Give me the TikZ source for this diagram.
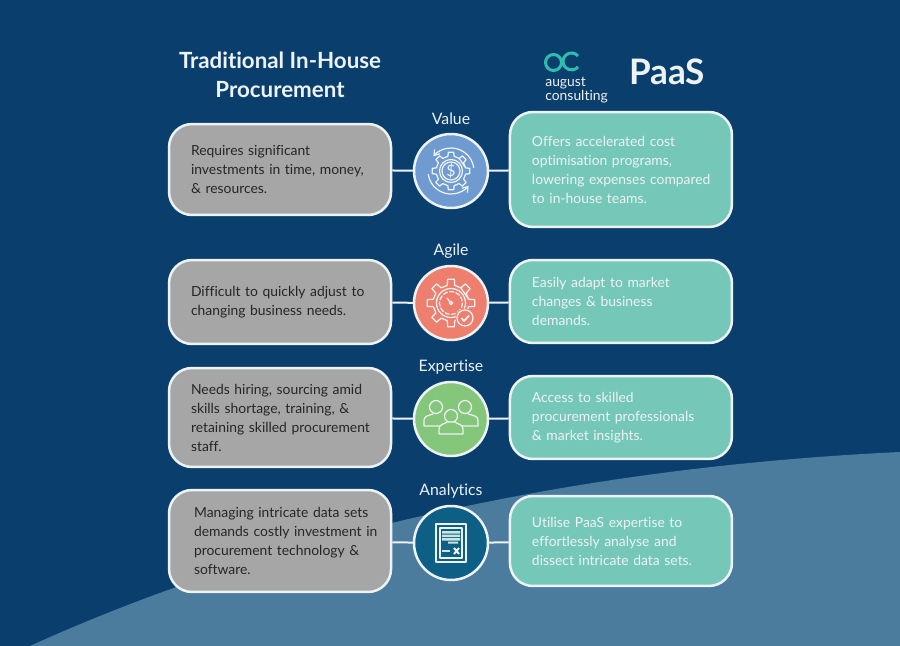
\documentclass[tikz,border=0pt]{standalone}
\usepackage{fontspec}
\setmainfont{Lato}[Ligatures=NoCommon]
\usetikzlibrary{positioning,arrows.meta}
\definecolor{navy}{HTML}{0A3F6D}
\definecolor{swoosh}{HTML}{4B7C9E}
\definecolor{greybox}{HTML}{A6A6A6}
\definecolor{tealbox}{HTML}{75C8B7}
\definecolor{offwhite}{HTML}{EDF2F5}
\definecolor{logoteal}{HTML}{2FBDB0}
\definecolor{valuehub}{HTML}{6F9BD1}
\definecolor{agilehub}{HTML}{EE7F6E}
\definecolor{experthub}{HTML}{85C77A}
\definecolor{datahub}{HTML}{0E5F86}
\tikzset{
    box/.style={draw=offwhite, line width=0.05cm, rounded corners=0.46cm, minimum width=4.44cm,
        text width=3.56cm, inner xsep=0pt, align=left, text=offwhite,
        font=\fontsize{7.9}{10.8}\selectfont},
    oldbox/.style={box, fill=greybox, text=black!85},
    newbox/.style={box, fill=tealbox},
    hub/.style={circle, draw=offwhite, line width=0.05cm, minimum size=1.48cm, inner sep=0pt},
    head/.style={text=offwhite, font=\fontsize{9}{10}\selectfont},
    link/.style={draw=offwhite, line width=0.04cm},
    icon/.style={draw=offwhite, line width=0.025cm, line join=round},
    valueicon/.pic={
        \draw[icon] \foreach \a in {0,45,...,315} {
            (\a-12:15) -- (\a-8:19) -- (\a+8:19) -- (\a+12:15) -- (\a+33:15)} -- cycle;
        \draw[icon] (0,0) circle (11.5) (0,0) circle (9);
        \draw[icon, -{Straight Barb[length=0.1cm,width=0.14cm]}] (-8:23) arc[start angle=-8, end angle=-140, radius=23];
        \draw[icon, -{Straight Barb[length=0.1cm,width=0.14cm]}] (172:23) arc[start angle=172, end angle=40, radius=23];
        \node[text=offwhite, font=\fontsize{9}{9}\selectfont] (dollar) at (0,0) {\$};
    },
    agileicon/.pic={
        \draw[icon] \foreach \a in {0,45,...,315} {
            (\a-12:18) -- (\a-8:24) -- (\a+8:24) -- (\a+12:18) -- (\a+33:18)} -- cycle;
        \draw[icon] (0,0) circle (14.5);
        \draw[icon, dash pattern=on 0.1cm off 0.03cm] (0,0) circle (11.5);
        \draw[icon] (0,0) circle (1.8) (-1,-1) -- (-4,-5);
        \fill[agilehub] (14,15) circle (9.5);
        \draw[icon] (14,15) circle (8);
        \draw[icon, line width=0.035cm] (10.5,15) -- (13,18) -- (18,12.5);
    },
    teamicon/.pic={
        \draw[icon] (-15,-12) circle (6.5) (14,-12) circle (6.5);
        \draw[icon] (-5,7) -- (-27,7) -- (-27,1) .. controls (-27,-3) and (-21,-4) .. (-18,-5)
            (5,7) -- (27,7) -- (27,1) .. controls (27,-3) and (21,-4) .. (17,-5);
        \draw[icon, fill=experthub] (0,-3) circle (6.5);
        \draw[icon, fill=experthub] (-12,15) -- (-12,10) .. controls (-12,5) and (-6,5) .. (-4,3)
            -- (4,3) .. controls (6,5) and (12,5) .. (12,10) -- (12,15) -- cycle;
    },
    reporticon/.pic={
        \draw[icon] (-15,-19) rectangle (15,19) (-11,-15) rectangle (11,15);
        \fill[offwhite!70!tealbox] (-9,-12) rectangle (9,-9.5) (-9,-8.5) rectangle (9,-6)
            (-9,-5) rectangle (9,-2.5) (-3,-1.5) rectangle (7,0.5);
        \fill[offwhite!70!tealbox] (-9,7) rectangle (-1,9);
        \draw[icon, line width=0.04cm] (3,5) -- (8,11) (8,5) -- (3,11);
    }
}
\begin{document}
\begin{tikzpicture}[x=0.02cm, y=-0.02cm, on grid]
    \fill[navy] (0,0) rectangle (900,646);
    \useasboundingbox (0,0) rectangle (900,646);
    \fill[swoosh] (30,646) .. controls (230,555) and (520,470) .. (900,452) -- (900,646) -- cycle;

    \node[align=center, text=offwhite, font=\fontsize{12.7}{16.4}\selectfont\bfseries] (oldtitle) at (280,75) {Traditional In-House\\Procurement};
    \node[text=offwhite, font=\fontsize{20}{20}\selectfont\bfseries] (newtitle) at (667,72) {PaaS};
    \draw[logoteal, line width=0.06cm] (553.5,62.5) circle (8);
    \draw[logoteal, line width=0.06cm] (578,56) arc[start angle=-40, end angle=-320, radius=8.5];
    \node[anchor=north west, inner sep=0pt, align=left, text=offwhite, font=\fontsize{7.9}{6.7}\selectfont] (logo) at (545,76.5) {august\\consulting};

    \node[hub, fill=valuehub] (value) at (451,171) {};
    \node[hub, fill=agilehub] (agile) at (451,303) {};
    \node[hub, fill=experthub] (expertise) at (451,419) {};
    \node[hub, fill=datahub] (analytics) at (451,543) {};

    \node[head, above=1.04cm of value] {Value};
    \node[head, above=1.04cm of agile] {Agile};
    \node[head, above=1.04cm of expertise] {Expertise};
    \node[head, above=1.04cm of analytics] {Analytics};

    \pic at (value) {valueicon};
    \pic at (agile) {agileicon};
    \pic at (expertise) {teamicon};
    \pic at (analytics) {reporticon};

    \node[oldbox, minimum height=1.82cm, above left=0.03cm and 3.42cm of value] (valueL) {Requires significant\\investments in time, money,\\\& resources.};
    \node[oldbox, minimum height=1.68cm, above left=0.02cm and 3.42cm of agile] (agileL) {Difficult to quickly adjust to\\changing business needs.};
    \node[oldbox, minimum height=1.98cm, above left=0.03cm and 3.42cm of expertise] (expertiseL) {Needs hiring, sourcing amid\\skills shortage, training, \&\\\mbox{retaining skilled procurement}\\staff.};
    \node[oldbox, text width=3.44cm, minimum height=2.04cm, above left=0.04cm and 3.42cm of analytics] (analyticsL) {\mbox{Managing intricate data sets}\\\mbox{demands costly investment in}\\\mbox{procurement technology \&}\\software.};

    \node[newbox, minimum height=2.3cm, above right=0.03cm and 3.4cm of value] (valueR) {Offers accelerated cost\\optimisation programs,\\\mbox{lowering expenses compared}\\to in-house teams.};
    \node[newbox, minimum height=1.66cm, above right=0.03cm and 3.4cm of agile] (agileR) {Easily adapt to market\\changes \& business\\demands.};
    \node[newbox, minimum height=1.66cm, above right=0.03cm and 3.4cm of expertise] (expertiseR) {Access to skilled\\\mbox{procurement professionals}\\\& market insights.};
    \node[newbox, minimum height=1.8cm, above right=0.04cm and 3.4cm of analytics] (analyticsR) {Utilise PaaS expertise to\\effortlessly analyse and\\dissect intricate data sets.};

    \path[link]
     (valueL) edge (value)
     (value) edge (valueR)
     (agileL) edge (agile)
     (agile) edge (agileR)
     (expertiseL) edge (expertise)
     (expertise) edge (expertiseR)
     (analyticsL) edge (analytics)
     (analytics) edge (analyticsR);
\end{tikzpicture}
\end{document}
